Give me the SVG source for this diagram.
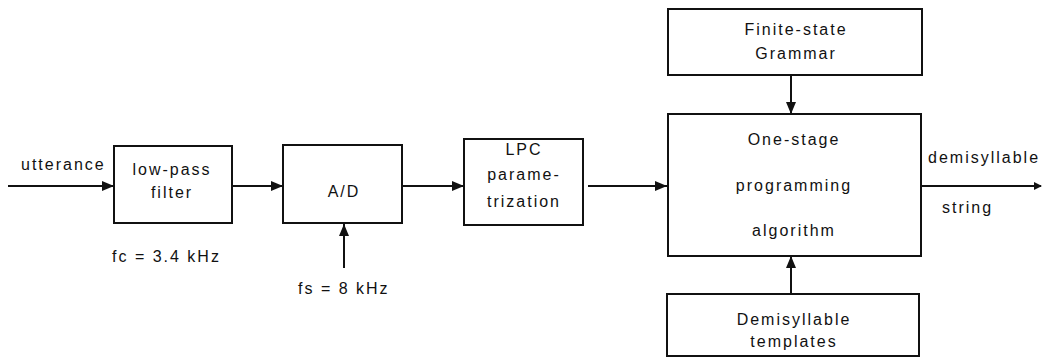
<svg xmlns="http://www.w3.org/2000/svg" width="1043" height="358" viewBox="0 0 1043 358">
<style>
.box{fill:#fff;stroke:#111;stroke-width:2}
.ln{fill:none;stroke:#111;stroke-width:2}
text{font-family:"Liberation Sans",Arial,sans-serif;font-size:16px;fill:#111;letter-spacing:2px}
.c{text-anchor:middle}
</style>
<defs>
<marker id="ah" viewBox="0 0 12 10" refX="12" refY="5" markerWidth="12" markerHeight="10" markerUnits="userSpaceOnUse" orient="auto">
<path d="M0,0 L12,5 L0,10 Z" fill="#111"/>
</marker>
<marker id="ahs" viewBox="0 0 8 8" refX="7" refY="4" markerWidth="8" markerHeight="8" markerUnits="userSpaceOnUse" orient="auto">
<path d="M0,0 L8,4 L0,8 Z" fill="#111"/>
</marker>
</defs>
<g id="connectors">
<line class="ln" x1="8" y1="186" x2="114" y2="186" marker-end="url(#ah)"/>
<line class="ln" x1="232" y1="186" x2="283" y2="186" marker-end="url(#ah)"/>
<line class="ln" x1="402" y1="186" x2="464" y2="186" marker-end="url(#ah)"/>
<line class="ln" x1="588" y1="186" x2="667" y2="186" marker-end="url(#ah)"/>
<line class="ln" x1="344" y1="268" x2="344" y2="224" marker-end="url(#ah)"/>
<line class="ln" x1="791" y1="75" x2="791" y2="114" marker-end="url(#ah)"/>
<line class="ln" x1="791" y1="294" x2="791" y2="256" marker-end="url(#ah)"/>
<line class="ln" x1="921" y1="186" x2="1041" y2="186" marker-end="url(#ahs)"/>
<text x="21" y="170">utterance</text>
<text x="112" y="262">fc = 3.4 kHz</text>
<text x="298" y="294">fs = 8 kHz</text>
<text x="928" y="163">demisyllable</text>
<text x="942" y="213">string</text>
</g>
<g id="lowpass">
<rect class="box" x="114" y="146" width="118" height="77"/>
<text class="c" x="172" y="175">low-pass</text>
<text class="c" x="172" y="198">filter</text>
</g>
<g id="ad">
<rect class="box" x="283" y="145" width="119" height="78"/>
<text class="c" x="344" y="197">A/D</text>
</g>
<g id="lpc">
<rect class="box" x="464" y="139" width="119" height="86"/>
<text class="c" x="524" y="155">LPC</text>
<text class="c" x="524" y="180">parame-</text>
<text class="c" x="524" y="207">trization</text>
</g>
<g id="grammar">
<rect class="box" x="668" y="9" width="254" height="66"/>
<text class="c" x="796" y="35">Finite-state</text>
<text class="c" x="796" y="59">Grammar</text>
</g>
<g id="onestage">
<rect class="box" x="668" y="114" width="253" height="142"/>
<text class="c" x="794" y="145">One-stage</text>
<text class="c" x="794" y="191">programming</text>
<text class="c" x="794" y="236">algorithm</text>
</g>
<g id="templates">
<rect class="box" x="667" y="294" width="252" height="62"/>
<text class="c" x="794" y="325">Demisyllable</text>
<text class="c" x="794" y="347">templates</text>
</g>
</svg>
